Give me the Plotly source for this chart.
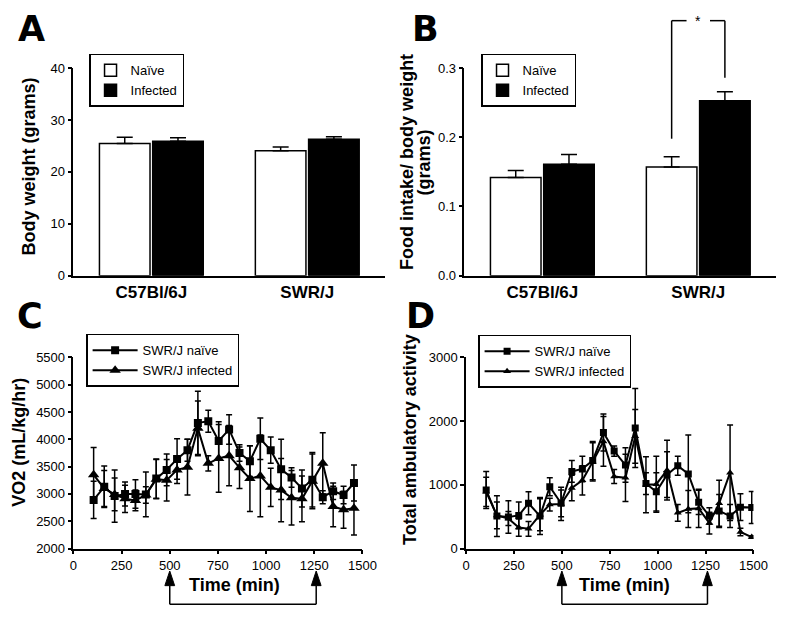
import plotly.graph_objects as go

# ---------------- data ----------------
strains = ["C57Bl/6J", "SWR/J"]
bw_naive = [25.5, 24.1]
bw_naive_err = [1.2, 0.7]
bw_inf = [25.9, 26.3]
bw_inf_err = [0.7, 0.5]

fi_naive = [0.142, 0.157]
fi_naive_err = [0.010, 0.015]
fi_inf = [0.161, 0.253]
fi_inf_err = [0.014, 0.013]

time_c = [105, 160, 214, 268, 322, 376, 430, 484, 538, 592, 646, 700, 754,
          808, 862, 916, 970, 1024, 1078, 1132, 1186, 1240, 1294, 1348, 1402, 1456]
vo2_naive = [2890, 3130, 2960, 3000, 3000, 2990, 3280, 3440, 3640, 3800, 4300, 4330, 3970,
             4180, 3750, 3600, 4010, 3800, 3450, 3300, 3100, 3260, 2940, 3050, 2980, 3200]
vo2_naive_err = [340, 380, 480, 220, 260, 410, 360, 290, 370, 200, 580, 200, 350,
                 270, 150, 280, 380, 240, 550, 180, 340, 500, 120, 150, 160, 330]
vo2_inf = [3350, 3100, 2990, 2910, 2880, 2980, 3270, 3250, 3440, 3490, 4200, 3560, 3650,
           3700, 3480, 3280, 3330, 3120, 3070, 2930, 2910, 3230, 3560, 2770, 2710, 2740]
vo2_inf_err = [500, 330, 300, 250, 190, 150, 360, 380, 250, 510, 500, 140, 620,
               550, 380, 600, 750, 350, 580, 500, 420, 500, 560, 370, 340, 490]

time_d = [105, 161, 221, 275, 326, 386, 437, 496, 552, 607, 661, 717, 773,
          832, 883, 939, 993, 1049, 1105, 1160, 1214, 1270, 1321, 1378, 1432, 1491]
act_naive = [920, 510, 495, 520, 710, 510, 970, 710, 1210, 1250, 1380, 1820, 1530,
             1310, 1890, 1020, 890, 1160, 1300, 1170, 725, 510, 590, 510, 650, 645]
act_naive_err = [290, 320, 255, 210, 180, 290, 140, 210, 170, 200, 300, 290, 80,
                 270, 620, 170, 300, 360, 150, 610, 190, 130, 260, 180, 210, 250]
act_inf = [890, 520, 470, 330, 310, 530, 690, 700, 950, 1070, 1360, 1680, 1130,
           1110, 1760, 1000, 1010, 1230, 560, 620, 630, 400, 710, 1190, 260, 180]
act_inf_err = [230, 210, 110, 135, 115, 250, 100, 260, 200, 230, 300, 390, 110,
               370, 420, 440, 440, 470, 130, 290, 300, 170, 360, 750, 60, 20]

light_phase = [500, 1260]

# ---------------- styling ----------------
W, H = 800, 620
FONT = "Liberation Sans, Arial, Helvetica, sans-serif"
BOLD = dict(family=FONT, size=18, color="black", weight="bold")


def px_x(p):
    return p / W


def px_y(p):
    return 1 - p / H


domA_x = [px_x(71), px_x(390)]
domB_x = [px_x(471), px_x(790)]
domTop_y = [px_y(275.3), px_y(62.7)]
domC_x = [px_x(71), px_x(366.7)]
domD_x = [px_x(472.7), px_x(766.7)]
domBot_y = [px_y(555), px_y(359)]

fig = go.Figure()


def bar_pair(naive, nerr, inf, ierr, xa, ya, leg):
    fig.add_trace(go.Bar(
        x=strains, y=naive, name="Naïve", xaxis=xa, yaxis=ya, legend=leg,
        marker=dict(color="white", line=dict(color="black", width=1.5)),
        error_y=dict(type="data", array=nerr, arrayminus=[0] * len(nerr), symmetric=False,
                     color="black", thickness=1.5, width=8)))
    fig.add_trace(go.Bar(
        x=strains, y=inf, name="Infected", xaxis=xa, yaxis=ya, legend=leg,
        marker=dict(color="black", line=dict(color="black", width=1.5)),
        error_y=dict(type="data", array=ierr, arrayminus=[0] * len(ierr), symmetric=False,
                     color="black", thickness=1.5, width=8)))


bar_pair(bw_naive, bw_naive_err, bw_inf, bw_inf_err, "x", "y", "legend")
bar_pair(fi_naive, fi_naive_err, fi_inf, fi_inf_err, "x2", "y2", "legend2")


def line_pair(t, n, ne, i, ie, xa, ya, leg, msq, mtri):
    fig.add_trace(go.Scatter(
        x=t, y=n, name="SWR/J naïve", mode="lines+markers", xaxis=xa, yaxis=ya, legend=leg,
        line=dict(color="black", width=2),
        marker=dict(symbol="square", size=msq, color="black"),
        error_y=dict(type="data", array=ne, color="black", thickness=1.5, width=3)))
    fig.add_trace(go.Scatter(
        x=t, y=i, name="SWR/J infected", mode="lines+markers", xaxis=xa, yaxis=ya, legend=leg,
        line=dict(color="black", width=2),
        marker=dict(symbol="triangle-up", size=mtri, color="black"),
        error_y=dict(type="data", array=ie, color="black", thickness=1.5, width=3)))


line_pair(time_c, vo2_naive, vo2_naive_err, vo2_inf, vo2_inf_err, "x3", "y3", "legend3", 8, 10)
line_pair(time_d, act_naive, act_naive_err, act_inf, act_inf_err, "x4", "y4", "legend4", 7, 7)

axis_common = dict(showline=True, linecolor="black", linewidth=1.5, showgrid=False,
                   zeroline=False, ticks="outside", ticklen=4, tickwidth=1.5,
                   tickcolor="black", tickfont=dict(family=FONT, size=13, color="black"),
                   fixedrange=True)
cat_axis = dict(axis_common, ticks="", type="category",
                tickfont=dict(family=FONT, size=17, color="black", weight="bold"))

legend_common = dict(font=dict(family=FONT, size=13, color="black"), bgcolor="white",
                     bordercolor="black", borderwidth=1.5, xanchor="left", yanchor="top",
                     tracegroupgap=0, itemclick=False)

fig.update_layout(
    width=W, height=H, margin=dict(l=0, r=0, t=0, b=0),
    paper_bgcolor="white", plot_bgcolor="white",
    barmode="group", bargap=0.317, bargroupgap=0.05,
    font=dict(family=FONT, color="black"),
    xaxis=dict(cat_axis, domain=domA_x, anchor="y"),
    yaxis=dict(axis_common, domain=domTop_y, anchor="x", range=[0, 40], dtick=10),
    xaxis2=dict(cat_axis, domain=domB_x, anchor="y2"),
    yaxis2=dict(axis_common, domain=domTop_y, anchor="x2", range=[0, 0.3], dtick=0.1,
                tickformat=".1f"),
    xaxis3=dict(axis_common, domain=domC_x, anchor="y3", range=[0, 1500], dtick=250),
    yaxis3=dict(axis_common, domain=domBot_y, anchor="x3", range=[2000, 5500], dtick=500),
    xaxis4=dict(axis_common, domain=domD_x, anchor="y4", range=[0, 1500], dtick=250),
    yaxis4=dict(axis_common, domain=domBot_y, anchor="x4", range=[0, 3000], dtick=1000),
    legend=dict(legend_common, x=px_x(87), y=px_y(48)),
    legend2=dict(legend_common, x=px_x(488), y=px_y(48)),
    legend3=dict(legend_common, x=px_x(84), y=px_y(335), itemwidth=45),
    legend4=dict(legend_common, x=px_x(485), y=px_y(336), itemwidth=45),
)

ann = []
# panel letters
LETTER_FONT = dict(family="DejaVu Sans, Liberation Sans, Arial, sans-serif", size=35,
                   color="black", weight="bold")
for letter, cx, cy in [("A", 28, 23), ("B", 431, 23), ("C", 27, 317), ("D", 426, 317)]:
    ann.append(dict(text=letter, x=px_x(cx), y=px_y(cy), xref="paper", yref="paper",
                    showarrow=False, xanchor="center", yanchor="middle", font=LETTER_FONT))
# y titles
for txt, cx, cy in [("Body weight (grams)", 26, 163),
                    ("Food intake/ body weight", 412, 159),
                    ("(grams)", 430, 159),
                    ("VO2 (mL/kg/hr)", 16, 446),
                    ("Total ambulatory activity", 416, 443)]:
    ann.append(dict(text=txt, x=px_x(cx), y=px_y(cy), xref="paper", yref="paper",
                    showarrow=False, textangle=-90, xanchor="center", yanchor="middle",
                    font=BOLD))
# x titles
for cx in (236, 635):
    ann.append(dict(text="Time (min)", x=px_x(cx), y=px_y(592), xref="paper", yref="paper",
                    showarrow=False, xanchor="center", yanchor="middle", font=BOLD))

# light-phase arrows under C and D (drawn as shapes)
shapes = []
line_style = dict(color="black", width=1.5)
half_w_min = 5 / (295.7 / 1500)  # 5 px half-width of arrowhead in minutes
tip, base, bottom = px_y(578), px_y(593), px_y(612)
for xa in ("x3", "x4"):
    for t in light_phase:
        shapes.append(dict(type="line", xref=xa, yref="paper", x0=t, x1=t,
                           y0=bottom, y1=base, line=line_style))
        shapes.append(dict(type="path", xref=xa, yref="paper",
                           path=f"M {t - half_w_min},{base} L {t},{tip} L {t + half_w_min},{base} Z",
                           fillcolor="black", line=dict(color="black", width=1)))
    shapes.append(dict(type="line", xref=xa, yref="paper", x0=light_phase[0],
                       x1=light_phase[1], y0=bottom, y1=bottom, line=line_style))

# significance bracket in B (between SWR/J naive and infected bars)
slot = (1 - 0.317) / 2
unit = (790 - 471) / 2


def cat_px(idx, offset):
    return 471 + unit * (idx + 0.5 + offset)


xl = cat_px(1, -slot / 2)
xr = cat_px(1, slot / 2)
xmid = (xl + xr) / 2
ytop = 14
yl = 275.3 - 0.198 * (212.6 / 0.3)
yr = 275.3 - 0.286 * (212.6 / 0.3)
shapes += [
    dict(type="line", xref="paper", yref="paper", x0=px_x(xl), x1=px_x(xl),
         y0=px_y(yl), y1=px_y(ytop), line=line_style),
    dict(type="line", xref="paper", yref="paper", x0=px_x(xl), x1=px_x(xmid - 12),
         y0=px_y(ytop), y1=px_y(ytop), line=line_style),
    dict(type="line", xref="paper", yref="paper", x0=px_x(xmid + 12), x1=px_x(xr),
         y0=px_y(ytop), y1=px_y(ytop), line=line_style),
    dict(type="line", xref="paper", yref="paper", x0=px_x(xr), x1=px_x(xr),
         y0=px_y(yr), y1=px_y(ytop), line=line_style),
]
ann.append(dict(text="*", x=px_x(xmid), y=px_y(14), xref="paper", yref="paper",
                showarrow=False, xanchor="center", yanchor="middle",
                font=dict(family=FONT, size=14, color="black")))

fig.update_layout(annotations=ann, shapes=shapes)
fig.write_html("out.html", config={"displayModeBar": False},
               post_script="document.body.style.margin='0';document.body.style.overflow='hidden';")
